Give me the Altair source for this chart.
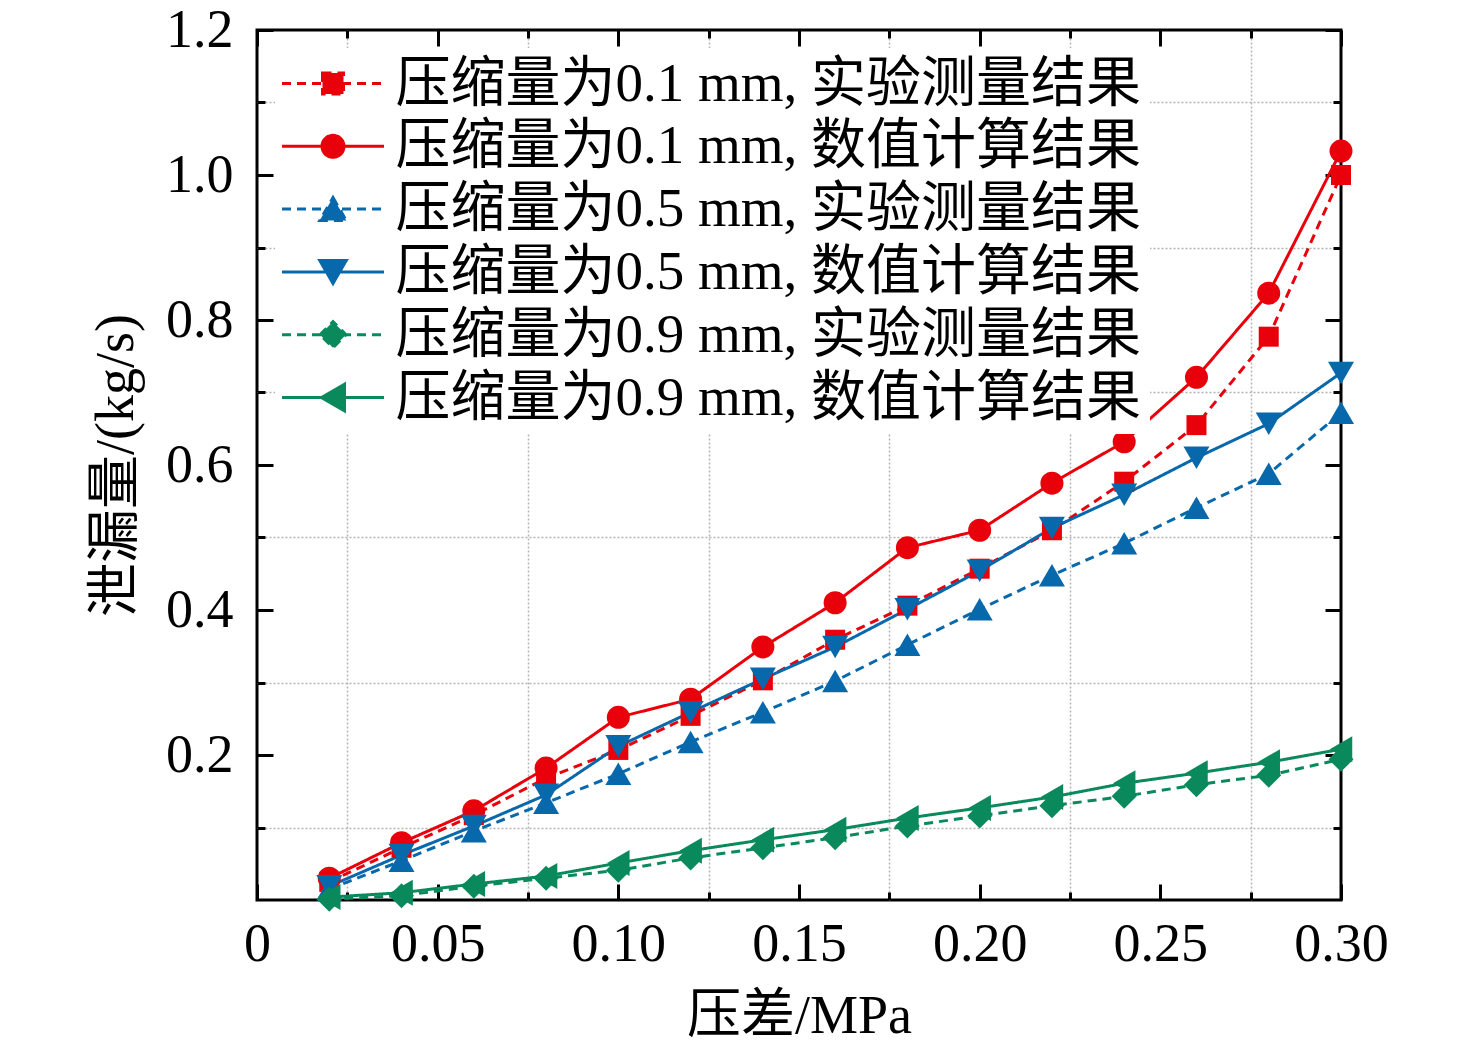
import altair as alt
import pandas as pd

# ---------------- data ----------------
pressure = [0.02, 0.04, 0.06, 0.08, 0.10, 0.12, 0.14, 0.16, 0.18, 0.20, 0.22, 0.24, 0.26, 0.28, 0.30]

exp_01 = [0.025, 0.072, 0.117, 0.168, 0.207, 0.254, 0.303, 0.359, 0.406, 0.457, 0.510, 0.577, 0.655, 0.777, 1.000]
num_01 = [0.030, 0.079, 0.123, 0.182, 0.252, 0.277, 0.349, 0.410, 0.486, 0.510, 0.575, 0.632, 0.721, 0.837, 1.033]
exp_05 = [0.015, 0.054, 0.095, 0.134, 0.174, 0.218, 0.259, 0.302, 0.352, 0.401, 0.448, 0.492, 0.541, 0.588, 0.672]
num_05 = [0.019, 0.062, 0.102, 0.145, 0.212, 0.259, 0.305, 0.349, 0.401, 0.454, 0.513, 0.559, 0.610, 0.657, 0.727]
exp_09 = [0.001, 0.006, 0.019, 0.030, 0.041, 0.058, 0.072, 0.086, 0.102, 0.116, 0.130, 0.143, 0.159, 0.172, 0.194]
num_09 = [0.004, 0.010, 0.022, 0.033, 0.051, 0.068, 0.083, 0.097, 0.113, 0.127, 0.142, 0.161, 0.175, 0.190, 0.208]

series_names = [
    "压缩量为0.1 mm, 实验测量结果",
    "压缩量为0.1 mm, 数值计算结果",
    "压缩量为0.5 mm, 实验测量结果",
    "压缩量为0.5 mm, 数值计算结果",
    "压缩量为0.9 mm, 实验测量结果",
    "压缩量为0.9 mm, 数值计算结果",
]
series_values = [exp_01, num_01, exp_05, num_05, exp_09, num_09]

x_major = [0, 0.05, 0.10, 0.15, 0.20, 0.25, 0.30]
x_minor = [0.025, 0.075, 0.125, 0.175, 0.225, 0.275]
y_major = [0.2, 0.4, 0.6, 0.8, 1.0, 1.2]
y_minor = [0.1, 0.3, 0.5, 0.7, 0.9, 1.1]

x_title = "压差/MPa"
y_title = "泄漏量/(kg/s)"

# ---------------- styles ----------------
RED, BLUE, GREEN = "#e8000b", "#0868ac", "#0a8a5c"
colors = [RED, RED, BLUE, BLUE, GREEN, GREEN]
dashes = [[9, 6], [1, 0], [9, 6], [1, 0], [9, 6], [1, 0]]
shapes = ["square", "circle", "triangle-up", "triangle-down", "diamond", "triangle-left"]
sizes = [400, 529, 676, 676, 625, 676]

LINE = "M-5.1,0H5.1"
legend_paths = [
    LINE + "M-1.05,-1.05H1.05V1.05H-1.05Z",
    LINE + "M-1.1,0A1.1,1.1 0 1,0 1.1,0A1.1,1.1 0 1,0 -1.1,0Z",
    LINE + "M0,-1.15L1.33,1.15L-1.33,1.15Z",
    LINE + "M0,1.15L1.33,-1.15L-1.33,-1.15Z",
    LINE + "M-1.3,0L0,-1.3L1.3,0L0,1.3Z",
    LINE + "M-1.15,0L1.15,-1.33L1.15,1.33Z",
]

FONT = "Liberation Serif, Noto Sans CJK SC"

rows = []
for name, vals in zip(series_names, series_values):
    for p, q in zip(pressure, vals):
        rows.append({"p": p, "q": q, "series": name})
df = pd.DataFrame(rows)

xs = alt.Scale(domain=[0, 0.30], nice=False, zero=False)
ys = alt.Scale(domain=[0, 1.2], nice=False, zero=False)

common = dict(domain=False, title=None)

ax_x_major = alt.Axis(orient="bottom", values=x_major, tickSize=16, offset=-16, labelPadding=17,
                      labelExpr="datum.value == 0 ? '0' : format(datum.value, '.2f')",
                      labelFlush=False, labelOverlap=False, grid=False, domain=False,
                      title=x_title, titlePadding=18)
ax_y_major = alt.Axis(orient="left", values=y_major, tickSize=16, offset=-16, labelPadding=24,
                      format=".1f", labelFlush=False, labelOverlap=False, grid=False, domain=False,
                      title=y_title, titlePadding=22)
ax_x_minor = alt.Axis(orient="bottom", values=x_minor, tickSize=8, offset=-8, labels=False, grid=False, **common)
ax_y_minor = alt.Axis(orient="left", values=y_minor, tickSize=8, offset=-8, labels=False, grid=False, **common)
ax_x_top_major = alt.Axis(orient="top", values=x_major, tickSize=16, offset=-16, labels=False, grid=False, **common)
ax_y_right_major = alt.Axis(orient="right", values=y_major, tickSize=16, offset=-16, labels=False, grid=False, **common)
ax_x_top_minor = alt.Axis(orient="top", values=x_minor, tickSize=8, offset=-8, labels=False, grid=False, **common)
ax_y_right_minor = alt.Axis(orient="right", values=y_minor, tickSize=8, offset=-8, labels=False, grid=False, **common)
grid_style = dict(ticks=False, labels=False, grid=True, gridColor="#b4b4b4", gridDash=[2, 2], gridWidth=1.5, **common)
ax_x_grid = alt.Axis(orient="bottom", values=x_minor, **grid_style)
ax_y_grid = alt.Axis(orient="left", values=y_minor, **grid_style)

point_axes = [
    (ax_x_minor, ax_y_minor),
    (ax_x_top_major, ax_y_right_major),
    (ax_x_top_minor, ax_y_right_minor),
    (ax_x_grid, ax_y_grid),
    (None, None),
    (None, None),
]

color_scale = alt.Scale(domain=series_names, range=colors)

base = alt.Chart(df)

lines = base.mark_line(strokeWidth=3).encode(
    x=alt.X("p:Q", scale=xs, axis=ax_x_major),
    y=alt.Y("q:Q", scale=ys, axis=ax_y_major),
    color=alt.Color("series:N", scale=color_scale, legend=alt.Legend(title=None)),
    strokeDash=alt.StrokeDash("series:N", scale=alt.Scale(domain=series_names, range=dashes),
                              legend=alt.Legend(title=None)),
)

layers = [lines]
for i, name in enumerate(series_names):
    axx, axy = point_axes[i]
    pts = base.transform_filter(alt.datum.series == name).mark_point(
        shape=shapes[i], filled=True, size=sizes[i], color=colors[i], opacity=1
    ).encode(
        x=alt.X("p:Q", scale=xs, axis=axx),
        y=alt.Y("q:Q", scale=ys, axis=axy),
    )
    layers.append(pts)

legend_layer = base.transform_filter("false").mark_point(filled=True, opacity=1).encode(
    x=alt.X("p:Q", scale=xs, axis=None),
    y=alt.Y("q:Q", scale=ys, axis=None),
    color=alt.Color("series:N", scale=color_scale, legend=alt.Legend(title=None)),
    shape=alt.Shape("series:N", scale=alt.Scale(domain=series_names, range=legend_paths),
                    legend=alt.Legend(title=None)),
)
layers.append(legend_layer)

chart = alt.layer(*layers).resolve_axis(x="independent", y="independent").properties(
    width=1084, height=870,
    autosize=alt.AutoSizeParams(type="none"),
    padding={"left": 249, "top": 22, "right": 127, "bottom": 143},
    background="white",
).configure_view(
    stroke="black", strokeWidth=3
).configure_axis(
    tickColor="black", tickWidth=3,
    labelFont=FONT, labelFontSize=54, labelColor="black",
    titleFont=FONT, titleFontSize=54, titleFontWeight="normal", titleColor="black",
).configure_legend(
    orient="none", legendX=18, legendY=18, fillColor="white", padding=8,
    labelFont=FONT, labelFontSize=55, labelColor="black", labelLimit=2000,
    symbolSize=400, symbolStrokeWidth=3, symbolOffset=22.5, labelOffset=35,
    rowPadding=6.8, symbolOpacity=1,
)

chart.save("out.html", embed_options={"renderer": "svg", "actions": False})
